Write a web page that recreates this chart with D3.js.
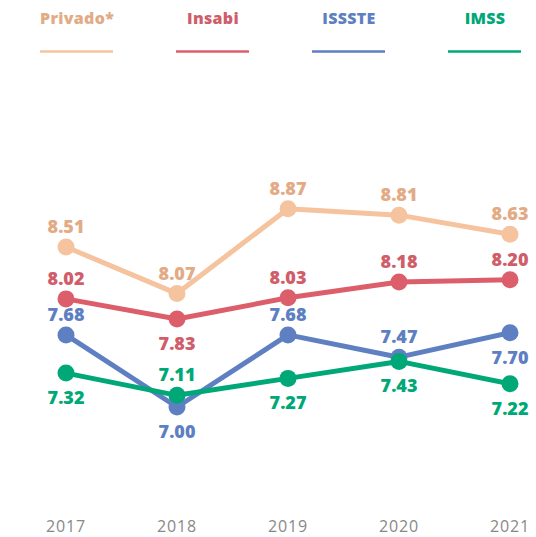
<!DOCTYPE html>
<html>
<head>
<meta charset="utf-8">
<script src="https://cdn.jsdelivr.net/npm/d3@7"></script>
<style>
  body { margin: 0; background: #fff; }
  svg { display: block; font-family: "Open Sans", "DejaVu Sans", sans-serif; }
</style>
</head>
<body>
<div id="chart"></div>
<script>
// Datos
const years = ["2017", "2018", "2019", "2020", "2021"];
const seriesNames = ["Privado*", "Insabi", "ISSSTE", "IMSS"];
const privado = [8.51, 8.07, 8.87, 8.81, 8.63];
const insabi = [8.02, 7.83, 8.03, 8.18, 8.20];
const issste = [7.68, 7.00, 7.68, 7.47, 7.70];
const imss = [7.32, 7.11, 7.27, 7.43, 7.22];

// Posición de etiquetas: 1 = arriba, -1 = abajo
const labelSide = [
    [1, 1, 1, 1, 1],
    [1, -1, 1, 1, 1],
    [1, -1, 1, 1, -1],
    [-1, 1, -1, -1, -1]
];
const lineColors = ["#f5c39d", "#dc5e6b", "#5e7fc1", "#00a878"];
const textColors = ["#e2ab86", "#d05d6a", "#5e7fc1", "#00a878"];

const width = 536, height = 537;
const series = [privado, insabi, issste, imss].map((vals, i) => ({
    name: seriesNames[i],
    values: vals.map((v, j) => ({ year: years[j], value: v, side: labelSide[i][j] })),
    line: lineColors[i],
    text: textColors[i]
}));

const svg = d3.select("#chart").append("svg")
    .attr("width", width)
    .attr("height", height);

// Escalas
const x = d3.scalePoint().domain(years).range([66, 510]);
const y = d3.scaleLinear().domain([6.5, 9]).range([460, 195]);

// Leyenda
const legend = d3.scalePoint().domain(seriesNames).range([77, 485]);
const leg = svg.selectAll(".legend")
    .data(series)
    .enter().append("g")
    .attr("class", "legend")
    .attr("transform", d => `translate(${legend(d.name)},0)`);

leg.append("text")
    .attr("y", 24)
    .attr("text-anchor", "middle")
    .style("font-size", "16px")
    .style("font-weight", 800)
    .style("letter-spacing", "0.3px")
    .style("fill", d => d.text)
    .text(d => d.name);

leg.append("line")
    .attr("x1", -37).attr("x2", 36)
    .attr("y1", 51.5).attr("y2", 51.5)
    .attr("stroke", d => d.line)
    .attr("stroke-width", 2.5);

// Eje X
svg.selectAll(".year")
    .data(years)
    .enter().append("text")
    .attr("class", "year")
    .attr("x", d => x(d))
    .attr("y", 532)
    .attr("text-anchor", "middle")
    .style("font-size", "16px")
    .style("font-weight", 500)
    .style("letter-spacing", "0.8px")
    .style("fill", "#888888")
    .text(d => d);

// Líneas
const line = d3.line().x(d => x(d.year)).y(d => y(d.value));

const g = svg.selectAll(".serie")
    .data(series)
    .enter().append("g")
    .attr("class", "serie");

g.append("path")
    .attr("d", d => line(d.values))
    .attr("fill", "none")
    .attr("stroke", d => d.line)
    .attr("stroke-width", 5)
    .attr("stroke-linejoin", "round");

g.selectAll("circle")
    .data(d => d.values.map(v => Object.assign({ color: d.line }, v)))
    .enter().append("circle")
    .attr("cx", d => x(d.year))
    .attr("cy", d => y(d.value))
    .attr("r", 8.5)
    .attr("fill", d => d.color);

// Etiquetas
g.selectAll(".lbl")
    .data(d => d.values.map(v => Object.assign({ color: d.text }, v)))
    .enter().append("text")
    .attr("class", "lbl")
    .attr("x", d => x(d.year))
    .attr("y", d => y(d.value) + (d.side > 0 ? -14 : 31))
    .attr("text-anchor", "middle")
    .style("font-size", "18px")
    .style("font-weight", 800)
    .style("fill", d => d.color)
    .text(d => d.value.toFixed(2));
</script>
</body>
</html>
